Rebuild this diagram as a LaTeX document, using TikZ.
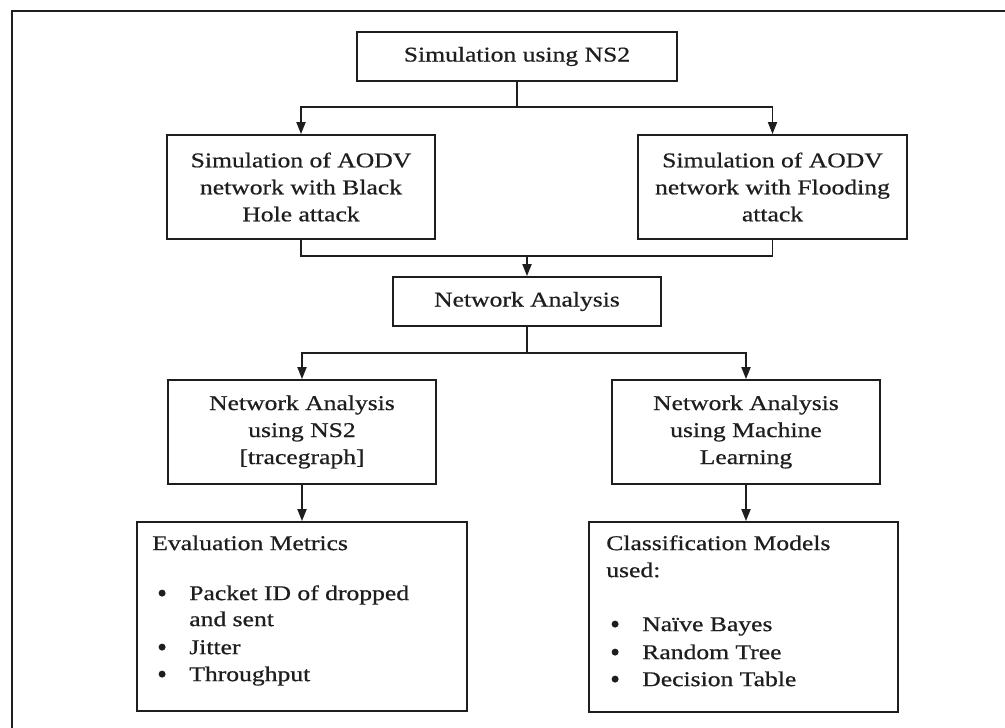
\documentclass[tikz,border=0pt]{standalone}
\usepackage{fontspec}
\setmainfont{Liberation Serif}[FakeStretch=1.22,FakeBold=0.6]
\usetikzlibrary{arrows.meta,calc}
\definecolor{ink}{HTML}{1E1E1E}

\begin{document}
\begin{tikzpicture}[x=1pt,y=-1pt,
  txt/.style={font=\fontsize{21}{27}\selectfont, text=ink, inner sep=0pt},
  dot/.style={circle, fill=ink, inner sep=0pt, minimum size=7pt},
  box/.style={draw=ink, line width=1.8pt, fill=white, rectangle, inner sep=0pt,
    align=center, font=\fontsize{21}{27}\selectfont, text=ink},
  link/.style={draw=ink, line width=1.8pt},
  arr/.style={link, -{Triangle[length=12pt,width=9pt]}},
  frame/.style={draw=ink, line width=2pt}]

\useasboundingbox (0,0) rectangle (1005,728);
\clip (0,0) rectangle (1005,728);
\fill[white] (0,0) rectangle (1005,728);

% outer frame (left and top edges)
\draw[frame] (12,760) -- (12,10.5) -- (1020,10.5);

% boxes
\node[box, minimum width=320pt, minimum height=49pt] (sim) at (517,56.5) {Simulation using NS2};
\node[box, minimum width=268pt, minimum height=104pt] (bh) at (301,187)
  {Simulation of AODV\\network with Black\\Hole attack};
\node[box, minimum width=269pt, minimum height=104pt] (fl) at (772.5,187)
  {Simulation of AODV\\network with Flooding\\attack};
\node[box, minimum width=268pt, minimum height=49pt] (na) at (527,301.5) {Network Analysis};
\node[box, minimum width=268pt, minimum height=104pt] (ns) at (302,432)
  {Network Analysis\\using NS2\\{[}tracegraph{]}};
\node[box, minimum width=268pt, minimum height=104pt] (ml) at (746,432)
  {Network Analysis\\using Machine\\Learning};
\node[box, minimum width=330pt, minimum height=189pt] (ev) at (302,616.5) {};
\node[box, minimum width=309pt, minimum height=190pt] (cm) at (743.5,617) {};

% junction points
\coordinate (j1) at (517,107);
\coordinate (j2) at (527,256);
\coordinate (j3) at (527,353);

% connectors
\draw[link] (sim.south) -- (j1);
\draw[arr] (j1) -| (bh.north);
\draw[arr] (j1) -| (fl.north);
\draw[link] (bh.south) |- (j2) -| (fl.south);
\draw[arr] (j2) -- (na.north);
\draw[link] (na.south) -- (j3);
\draw[arr] (j3) -| (ns.north);
\draw[arr] (j3) -| (ml.north);
\draw[arr] (ns.south) -- (ev.north);
\draw[arr] (ml.south) -- (ml.south |- cm.north);

% evaluation metrics list
\node[txt, anchor=base west] (evh) at ($(ev.north west)+(16,29)$) {Evaluation Metrics};
\node[dot] (evb1) at ($(ev.north west)+(26,72)$) {};
\node[txt, anchor=base west] (evt1) at ($(ev.north west)+(53,79)$) {Packet ID of dropped};
\node[txt, anchor=base west] (evt1b) at ($(ev.north west)+(53,105)$) {and sent};
\node[dot] (evb2) at ($(ev.north west)+(26,126)$) {};
\node[txt, anchor=base west] (evt2) at ($(ev.north west)+(53,133)$) {Jitter};
\node[dot] (evb3) at ($(ev.north west)+(26,153)$) {};
\node[txt, anchor=base west] (evt3) at ($(ev.north west)+(53,160)$) {Throughput};

% classification models list
\node[txt, anchor=base west] (cmh) at ($(cm.north west)+(18,29)$) {Classification Models};
\node[txt, anchor=base west] (cmh2) at ($(cm.north west)+(18,56)$) {used:};
\node[dot] (cmb1) at ($(cm.north west)+(27,103)$) {};
\node[txt, anchor=base west] (cmt1) at ($(cm.north west)+(54,110)$) {Naïve Bayes};
\node[dot] (cmb2) at ($(cm.north west)+(27,131)$) {};
\node[txt, anchor=base west] (cmt2) at ($(cm.north west)+(54,138)$) {Random Tree};
\node[dot] (cmb3) at ($(cm.north west)+(27,158)$) {};
\node[txt, anchor=base west] (cmt3) at ($(cm.north west)+(54,165)$) {Decision Table};
\end{tikzpicture}
\end{document}
